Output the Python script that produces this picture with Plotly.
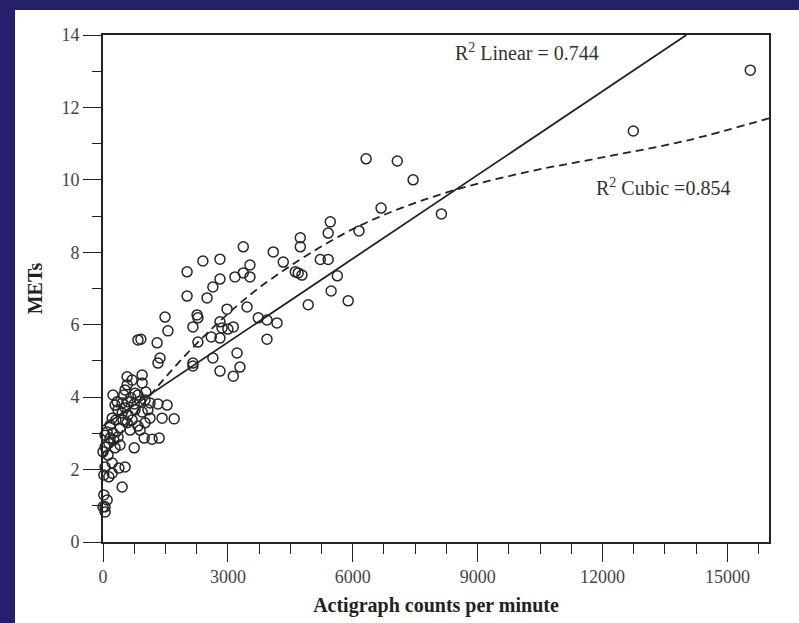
import plotly.graph_objects as go

# Scatter data: Actigraph counts per minute vs METs
counts = [15550, 12740, 6320, 7070, 7450, 8130, 6680, 5460, 5410, 6150,
          4740, 4740, 5220, 5410, 4330, 4620, 4690, 4780, 5630, 5480,
          5890, 4930, 3370, 4090, 2400, 2810, 2020, 3530, 3370, 3530,
          3170, 2810, 2640, 2500, 2020, 2980, 3460, 1490, 2260, 2280,
          1560, 2160, 2810, 2860, 3000, 3130, 1300, 2280, 2600, 2810,
          3730, 3940, 4180, 3940, 1370, 1320, 2160, 2160, 2640, 3220,
          3290, 2810, 3130, 840, 910,
          580, 700, 940, 940, 530, 770, 340, 460, 600, 750,
          890, 1010, 1130, 1320, 1540, 460, 600, 770, 940, 360,
          1420, 1710, 580, 700, 840, 1010, 410, 50, 170, 260,
          140, 50, 100, 240, 360, 990, 1180, 1350, 750, 0,
          50, 220, 380, 530, 20, 140, 220, 460, 20, 100,
          50, 0, 50, 480, 650, 310, 1080, 500, 290, 120, 240,
          290, 530, 670, 840, 1030, 220, 410, 890, 1130, 580, 170]
mets = [13.03, 11.35, 10.58, 10.52, 10.0, 9.06, 9.22, 8.84, 8.53, 8.59,
        8.4, 8.15, 7.8, 7.8, 7.73, 7.46, 7.43, 7.37, 7.35, 6.93,
        6.66, 6.55, 8.15, 8.01, 7.76, 7.81, 7.46, 7.65, 7.43, 7.32,
        7.32, 7.26, 7.04, 6.74, 6.79, 6.43, 6.49, 6.21, 6.27, 6.19,
        5.83, 5.94, 6.08, 5.91, 5.88, 5.94, 5.5, 5.52, 5.66, 5.63,
        6.19, 6.13, 6.05, 5.6, 5.08, 4.94, 4.94, 4.86, 5.08, 5.22,
        4.83, 4.72, 4.58, 5.58, 5.6,
        4.56, 4.47, 4.61, 4.39, 4.2, 4.11, 3.87, 3.84, 3.87, 3.81,
        3.89, 3.92, 3.84, 3.81, 3.78, 3.56, 3.51, 3.65, 3.59, 3.65,
        3.42, 3.4, 3.29, 3.37, 3.2, 3.29, 3.15, 2.95, 2.87, 2.82,
        2.73, 2.62, 3.04, 3.01, 2.9, 2.87, 2.84, 2.87, 2.6, 2.49,
        2.07, 2.18, 2.04, 2.07, 1.85, 1.8, 1.9, 1.52, 1.3, 1.16,
        0.97, 0.97, 0.83, 3.37, 3.09, 3.37, 3.65, 4.06, 2.6, 2.4, 4.06,
        3.78, 3.7, 3.98, 4.06, 4.14, 3.42, 2.68, 3.09, 3.42, 4.34, 3.23]

# Fit lines
linear_x = [0, 14015]
linear_y = [3.2, 14.0]
cubic_x = [0, 1000, 2000, 3000, 4000, 6000, 8000, 10000, 12000, 14000, 16000]
cubic_y = [2.32, 3.86, 5.18, 6.30, 7.23, 8.64, 9.56, 10.17, 10.62, 11.08, 11.70]

x_ticks = [0, 3000, 6000, 9000, 12000, 15000]
y_ticks = [0, 2, 4, 6, 8, 10, 12, 14]

SERIF = "Liberation Serif, Times New Roman, serif"
NAVY = "#24216a"
INK = "#222222"

fig = go.Figure()
fig.add_trace(go.Scatter(
    x=cubic_x, y=cubic_y, mode="lines", line_shape="spline",
    line=dict(color=INK, width=1.8, dash="8px,5px"), hoverinfo="skip",
    showlegend=False))
fig.add_trace(go.Scatter(
    x=linear_x, y=linear_y, mode="lines",
    line=dict(color=INK, width=1.8), hoverinfo="skip", showlegend=False))
fig.add_trace(go.Scatter(
    x=counts, y=mets, mode="markers", cliponaxis=False,
    marker=dict(symbol="circle-open", size=10, color="#262626",
                line=dict(width=1.5, color="#262626")),
    showlegend=False))

fig.add_annotation(x=10190, y=13.53, xref="x", yref="y", showarrow=False,
                   text="R<sup>2</sup> Linear = 0.744",
                   font=dict(family=SERIF, size=20, color="#333"))
fig.add_annotation(x=13460, y=9.8, xref="x", yref="y", showarrow=False,
                   text="R<sup>2</sup> Cubic =0.854",
                   font=dict(family=SERIF, size=20, color="#333"))

# Slide frame: navy strips on the top and left
fig.add_shape(type="rect", xref="paper", yref="paper", x0=-0.2, x1=1.1,
              y0=1.0493, y1=1.2, fillcolor=NAVY, line_width=0, layer="below")
fig.add_shape(type="rect", xref="paper", yref="paper", x0=-0.2, x1=-0.1321,
              y0=-0.2, y1=1.2, fillcolor=NAVY, line_width=0, layer="below")

axis_common = dict(showgrid=False, zeroline=False, showline=True,
                   linecolor=INK, linewidth=1.6, mirror=True,
                   ticks="outside", ticklen=18, tickwidth=1.4, tickcolor=INK,
                   tickfont=dict(family=SERIF, size=18, color="#444"))

fig.update_xaxes(range=[0, 16000], tickvals=x_ticks,
                 ticktext=[str(v) for v in x_ticks],
                 minor=dict(dtick=750, tick0=0, ticklen=10, tickwidth=1.4,
                            tickcolor=INK, ticks="outside"),
                 title=dict(text="<b>Actigraph counts per minute</b>",
                            font=dict(family=SERIF, size=20, color="#222"),
                            standoff=12),
                 **axis_common)
fig.update_yaxes(range=[0, 14], tickvals=y_ticks,
                 minor=dict(dtick=1, tick0=0, ticklen=9, tickwidth=1.4,
                            tickcolor=INK, ticks="outside"),
                 title=dict(text="<b>METs</b>",
                            font=dict(family=SERIF, size=20, color="#222"),
                            standoff=14),
                 **axis_common)

fig.update_layout(width=799, height=623,
                  margin=dict(l=103, r=30, t=35, b=81, autoexpand=False),
                  paper_bgcolor="white", plot_bgcolor="white",
                  showlegend=False)

fig.write_html("out.html")
